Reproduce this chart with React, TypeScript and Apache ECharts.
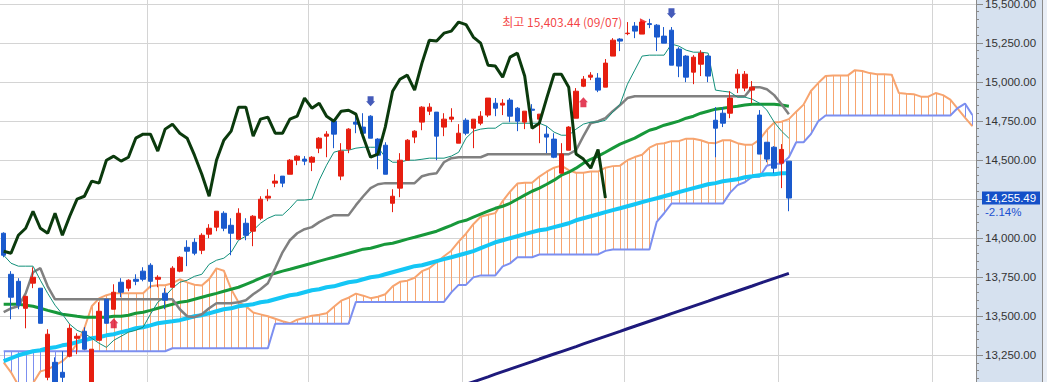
import React, { useEffect, useRef } from "react";
import * as echarts from "echarts";

// Nasdaq-style daily chart with Ichimoku cloud
const LEAD = 25; // cloud is drawn 25 sessions ahead of the last candle
const monthStarts = [20, 42, 63, 85, 106, 127];

const opens = [
  14030, 13767, 13722, 13549, 13710, 13678, 13107, 13203, 13139, 13242,
  13357, 13402, 13024, 13344, 13607, 13543, 13716, 13678, 13735, 13787,
  13825, 13735, 13646, 13684, 13787, 13940, 13972, 13921, 14024, 14069,
  14158, 14081, 13992, 14094, 14043, 14126, 14255, 14351, 14396, 14408,
  14498, 14505, 14485, 14575, 14652, 14748, 14396, 14569, 14742, 14710,
  14780, 14633, 14594, 14222, 14319, 14498, 14646, 14742, 14812, 14806,
  14710, 14761, 14607, 14754, 14703, 14735, 14787, 14863, 14851, 14883,
  14831, 14742, 14825, 14761, 14665, 14633, 14415, 14562, 14767, 14972,
  15030, 15024, 14966, 15165, 15274, 15309, 15357, 15306, 15373, 15363,
  15293, 15331, 15210, 15165, 15062, 15113, 15165, 14754, 14799, 14799,
  14960, 14960, 14947, 14787, 14613, 14581, 14479, 14492,
];
const closes = [
  13889, 13620, 13569, 13626, 13748, 13453, 13383, 13056, 13107, 13421,
  13370, 13287, 13287, 13530, 13453, 13652, 13652, 13729, 13722, 13735,
  13722, 13748, 13601, 13806, 13876, 13915, 13902, 14017, 14062, 14171,
  14062, 14030, 14158, 14017, 14139, 14248, 14267, 14364, 14351, 14498,
  14524, 14492, 14517, 14639, 14665, 14665, 14556, 14697, 14729, 14671,
  14639, 14530, 14408, 14267, 14498, 14626, 14684, 14838, 14838, 14652,
  14761, 14774, 14671, 14671, 14761, 14780, 14896, 14831, 14863, 14780,
  14748, 14812, 14818, 14793, 14646, 14517, 14537, 14710, 14940, 15017,
  15043, 14947, 15120, 15267, 15261, 15312, 15325, 15383, 15367, 15287,
  15248, 15107, 15101, 15030, 15158, 15184, 15037, 14703, 14735, 14896,
  15049, 15049, 14966, 14537, 14505, 14447, 14567, 14255.49,
];
const lows = [
  13876, 13479, 13543, 13421, 13678, 13453, 13088, 13040, 13056, 13235,
  13255, 13287, 12990, 13344, 13453, 13543, 13620, 13658, 13697, 13722,
  13678, 13684, 13543, 13684, 13780, 13819, 13889, 13896, 13998, 14043,
  14043, 13889, 13992, 13985, 13947, 14114, 14235, 14325, 14325, 14408,
  14466, 14466, 14428, 14543, 14517, 14575, 14370, 14543, 14671, 14652,
  14639, 14440, 14408, 14165, 14261, 14498, 14607, 14690, 14787, 14498,
  14652, 14742, 14607, 14658, 14575, 14722, 14774, 14780, 14787, 14742,
  14684, 14697, 14754, 14607, 14543, 14511, 14415, 14562, 14767, 14966,
  15011, 14934, 14966, 15165, 15197, 15299, 15280, 15306, 15344, 15197,
  15248, 15107, 15030, 14998, 14985, 15037, 14998, 14517, 14710, 14767,
  14928, 14940, 14863, 14537, 14485, 14415, 14319, 14171,
];
const highs = [
  14036, 13787, 13742, 13626, 13812, 13678, 13415, 13235, 13274, 13447,
  13389, 13428, 13287, 13588, 13607, 13703, 13742, 13735, 13767, 13812,
  13838, 13761, 13678, 13819, 13883, 13985, 13998, 14030, 14088, 14171,
  14171, 14126, 14190, 14126, 14146, 14267, 14312, 14408, 14396, 14505,
  14530, 14524, 14524, 14646, 14684, 14761, 14607, 14703, 14799, 14799,
  14786, 14639, 14613, 14312, 14543, 14633, 14690, 14844, 14863, 14806,
  14799, 14831, 14729, 14767, 14761, 14812, 14896, 14896, 14889, 14896,
  14838, 14812, 14857, 14793, 14716, 14671, 14607, 14716, 14960, 15037,
  15062, 15056, 15146, 15280, 15280, 15383, 15383, 15391, 15403.44, 15370,
  15351, 15351, 15222, 15171, 15171, 15203, 15171, 14838, 14838, 14940,
  15081, 15069, 15005, 14819, 14613, 14588, 14601, 14492,
];

// conversion line (tenkan)
const tenkan = [
  13889, 13838, 13819, 13819, 13819, 13729, 13645, 13569, 13511, 13447,
  13408, 13389, 13357, 13325, 13299, 13344, 13370, 13396, 13408, 13428,
  13511, 13588, 13626, 13678, 13716, 13729, 13754, 13767, 13831, 13857,
  13870, 13908, 13985, 14011, 14049, 14094, 14126, 14146, 14146, 14190,
  14242, 14242, 14248, 14370, 14466, 14549, 14562, 14562, 14575, 14581,
  14581, 14581, 14517, 14485, 14485, 14498, 14498, 14504, 14511, 14511,
  14511, 14524, 14549, 14639, 14684, 14697, 14703, 14703, 14735, 14735,
  14735, 14735, 14735, 14735, 14716, 14678, 14658, 14658, 14697, 14729,
  14742, 14742, 14754, 14806, 14857, 14985, 15075, 15165, 15171, 15171,
  15171, 15242, 15229, 15203, 15190, 15190, 15184, 14947, 14940, 14934,
  14902, 14902, 14889, 14863, 14819, 14742, 14684, 14639,
];
// base line (kijun)
const kijun = [
  13524, 13549, 13562, 13645, 13780, 13806, 13690, 13607, 13607, 13607,
  13607, 13607, 13607, 13607, 13607, 13607, 13607, 13607, 13607, 13607,
  13607, 13607, 13607, 13607, 13543, 13498, 13492, 13511, 13549, 13581,
  13581, 13581, 13588, 13601, 13639, 13671, 13710, 13806, 13908, 13985,
  14030, 14056, 14069, 14101, 14126, 14146, 14146, 14146, 14210, 14267,
  14319, 14344, 14351, 14351, 14351, 14351, 14351, 14395, 14408, 14415,
  14485, 14511, 14517, 14517, 14517, 14517, 14536, 14536, 14536, 14536,
  14536, 14536, 14536, 14536, 14536, 14536, 14536, 14536, 14562, 14652,
  14735, 14748, 14767, 14812, 14851, 14896, 14908, 14908, 14908, 14908,
  14908, 14908, 14908, 14908, 14908, 14908, 14908, 14908, 14908, 14908,
  14908, 14908, 14966, 14966, 14953, 14915, 14857, 14793,
];
// leading span A (133 sessions incl. 25 ahead)
const spanA = [
  13203, 13139, 13056, 13011, 13069, 13145, 13158, 13184, 13210, 13254,
  13325, 13421, 13562, 13613, 13633, 13645, 13645, 13645, 13645, 13645,
  13690, 13697, 13697, 13710, 13735, 13715, 13700, 13695, 13736, 13805,
  13790, 13672, 13588, 13563, 13522, 13510, 13498, 13482, 13466, 13453,
  13476, 13489, 13502, 13508, 13518, 13559, 13598, 13617, 13643, 13630,
  13614, 13623, 13639, 13690, 13719, 13726, 13745, 13787, 13806, 13844,
  13883, 13918, 13976, 14027, 14088, 14136, 14149, 14159, 14236, 14296,
  14348, 14354, 14354, 14393, 14424, 14450, 14463, 14434, 14418, 14418,
  14425, 14425, 14450, 14460, 14463, 14498, 14518, 14533, 14578, 14601,
  14607, 14620, 14620, 14636, 14636, 14626, 14610, 14607, 14626, 14626,
  14607, 14597, 14597, 14630, 14691, 14739, 14745, 14761, 14809, 14854,
  14941, 14992, 15037, 15040, 15040, 15040, 15075, 15069, 15056, 15049,
  15049, 15046, 14928, 14924, 14921, 14905, 14905, 14928, 14915, 14886,
  14829, 14771, 14716,
];
// leading span B
const spanB = [
  13274, 13274, 13274, 13274, 13274, 13274, 13274, 13274, 13274, 13274,
  13274, 13274, 13274, 13274, 13274, 13274, 13274, 13274, 13274, 13274,
  13274, 13274, 13274, 13293, 13293, 13293, 13293, 13293, 13293, 13293,
  13293, 13293, 13293, 13293, 13293, 13293, 13293, 13450, 13450, 13450,
  13450, 13450, 13450, 13450, 13450, 13450, 13450, 13450, 13590, 13590,
  13590, 13590, 13590, 13590, 13590, 13590, 13590, 13590, 13590, 13590,
  13590, 13651, 13699, 13699, 13747, 13760, 13760, 13760, 13818, 13837,
  13876, 13876, 13876, 13894, 13894, 13894, 13894, 13894, 13894, 13894,
  13894, 13894, 13917, 13926, 13926, 13926, 13926, 13926, 13926, 14103,
  14158, 14220, 14220, 14220, 14220, 14220, 14220, 14220, 14220, 14290,
  14338, 14357, 14392, 14392, 14463, 14475, 14475, 14517, 14613, 14613,
  14665, 14748, 14784, 14784, 14784, 14784, 14784, 14784, 14784, 14784,
  14784, 14784, 14784, 14784, 14784, 14784, 14784, 14784, 14784, 14784,
  14832, 14861, 14787,
];
// thick cyan moving average
const maCyan = [
  13210, 13229, 13248, 13261, 13274, 13280, 13293, 13299, 13312, 13319,
  13332, 13344, 13357, 13364, 13376, 13383, 13396, 13408, 13421, 13428,
  13440, 13453, 13460, 13466, 13473, 13485, 13498, 13505, 13517, 13530,
  13543, 13549, 13562, 13569, 13575, 13588, 13594, 13607, 13620, 13633,
  13639, 13652, 13665, 13671, 13684, 13690, 13703, 13716, 13722, 13735,
  13748, 13754, 13767, 13780, 13793, 13806, 13819, 13825, 13838, 13851,
  13864, 13876, 13889, 13902, 13915, 13934, 13953, 13972, 13985, 13998,
  14011, 14024, 14037, 14049, 14056, 14069, 14081, 14094, 14113, 14126,
  14139, 14152, 14165, 14178, 14190, 14203, 14216, 14229, 14242, 14254,
  14267, 14280, 14293, 14306, 14319, 14331, 14344, 14351, 14363, 14370,
  14376, 14389, 14395, 14402, 14408, 14408, 14415, 14415,
];
// green moving average
const maGreen = [
  13575, 13575, 13575, 13569, 13562, 13549, 13536, 13524, 13511, 13505,
  13498, 13492, 13492, 13492, 13492, 13498, 13498, 13505, 13517, 13524,
  13536, 13549, 13562, 13575, 13588, 13594, 13607, 13620, 13633, 13645,
  13658, 13671, 13684, 13703, 13722, 13742, 13761, 13774, 13787, 13799,
  13812, 13825, 13838, 13851, 13864, 13876, 13889, 13902, 13915, 13928,
  13934, 13947, 13960, 13966, 13979, 13992, 14004, 14017, 14030, 14043,
  14062, 14081, 14101, 14113, 14133, 14152, 14171, 14190, 14203, 14222,
  14248, 14274, 14299, 14319, 14344, 14370, 14402, 14421, 14447, 14479,
  14504, 14524, 14549, 14575, 14601, 14620, 14639, 14665, 14690, 14703,
  14722, 14735, 14748, 14767, 14780, 14799, 14812, 14825, 14831, 14838,
  14844, 14851, 14857, 14857, 14857, 14857, 14851, 14844,
];
// navy long moving average (visible from session 63)
const maNavyStart = 63;
const maNavy = [
  13062, 13078, 13094, 13110, 13127, 13143, 13159, 13175, 13191, 13207,
  13224, 13240, 13256, 13272, 13288, 13304, 13321, 13337, 13353, 13369,
  13385, 13401, 13418, 13434, 13450, 13466, 13482, 13498, 13515, 13531,
  13547, 13563, 13579, 13595, 13612, 13628, 13644, 13660, 13676, 13692,
  13709, 13725, 13741, 13757, 13773,
];

const upSignals = [[15, 13453], [79, 14870]];
const downSignals = [[50, 14876], [91, 15440]];
const highIndex = 88;
const highValue = 15403.44;
const highDate = "09/07";
const changePct = -2.14;

const C = {
  up: "#e61e10",
  down: "#1a5acd",
  spanA: "#f7a46f",
  spanB: "#7c8ff0",
  cyan: "#14c6f5",
  green: "#17983a",
  navy: "#1e1a7c",
  tenkan: "#12907a",
  kijun: "#808080",
  lag: "#0b3a0d",
  grid: "#d4d4d4",
};

const AXIS_FONT = "'Liberation Sans', Arial, sans-serif";
const AXIS_SIZE = 11.5;
const fmt = (v: number) =>
  v.toLocaleString("en-US", { minimumFractionDigits: 2, maximumFractionDigits: 2 });

export default function App() {
  const ref = useRef<HTMLDivElement>(null);
  useEffect(() => {
    document.body.style.margin = "0";
    const chart = echarts.init(ref.current!, null, { renderer: "svg" });
    const total = opens.length + LEAD;
    const categories = Array.from({ length: total }, (_, i) => String(i));
    const lagging = closes.slice(LEAD);
    const navyData = categories.map((_, i) => (i >= maNavyStart ? maNavy[i - maNavyStart] : null));
    const lastClose = closes[closes.length - 1];
    // the axis tick that sits under the current-price box is covered in the reference
    const coveredTick = Math.round(lastClose / 250) * 250;

    const line = (name: string, data: any[], color: string, width: number, z: number) => ({
      name,
      type: "line",
      data,
      z,
      silent: true,
      symbol: "none",
      lineStyle: { color, width },
      emphasis: { disabled: true },
    });

    const option: any = {
      animation: false,
      grid: { left: 0, right: 71, top: 0, bottom: 0 },
      xAxis: {
        type: "category",
        data: categories,
        boundaryGap: true,
        axisLine: { show: false },
        axisTick: { show: false },
        axisLabel: { show: false },
        splitLine: {
          show: true,
          interval: (i: number) => monthStarts.includes(i),
          lineStyle: { color: C.grid, width: 1 },
        },
      },
      yAxis: {
        type: "value",
        position: "right",
        min: 13000,
        max: 15550,
        interval: 250,
        axisLine: { show: true, lineStyle: { color: "#8a8a8a", width: 1 } },
        axisTick: { show: true, length: 7, lineStyle: { color: "#8a8a8a" } },
        minorTick: { show: true, splitNumber: 5, length: 3, lineStyle: { color: "#8a8a8a" } },
        axisLabel: {
          showMaxLabel: false,
          showMinLabel: false,
          margin: 9,
          color: "#333",
          fontSize: AXIS_SIZE,
          fontFamily: AXIS_FONT,
          formatter: (v: number) => (v === coveredTick ? "" : fmt(v)),
        },
        splitLine: { show: true, lineStyle: { color: C.grid, width: 1 } },
      },
      series: [
        {
          name: "cloud",
          type: "custom",
          z: 1,
          silent: true,
          data: spanA.map((a, i) => [i, a, spanB[i]]),
          encode: { x: 0, y: [1, 2] },
          renderItem: (_p: any, api: any) => {
            const i = api.value(0);
            const a = api.value(1);
            const b = api.value(2);
            const p1 = api.coord([i, a]);
            const p2 = api.coord([i, b]);
            const x = Math.round(p1[0]) + 0.5;
            return {
              type: "line",
              shape: { x1: x, y1: p1[1], x2: x, y2: p2[1] },
              style: { stroke: a >= b ? C.spanA : C.spanB, lineWidth: 1 },
            };
          },
        },
        line("spanA", spanA, C.spanA, 2, 2),
        line("spanB", spanB, C.spanB, 2, 2),
        line("maNavy", navyData, C.navy, 3, 3),
        line("maCyan", maCyan, C.cyan, 4, 3),
        line("maGreen", maGreen, C.green, 3, 3),
        line("kijun", kijun, C.kijun, 2.5, 4),
        line("tenkan", tenkan, C.tenkan, 1, 4),
        {
          name: "price",
          type: "candlestick",
          z: 5,
          silent: true,
          barWidth: 5,
          data: opens.map((o, i) => [o, closes[i], lows[i], highs[i]]),
          itemStyle: {
            color: C.up,
            color0: C.down,
            borderColor: C.up,
            borderColor0: C.down,
            borderWidth: 1,
          },
          markLine: {
            symbol: "none",
            silent: true,
            lineStyle: { width: 0, color: "rgba(0,0,0,0)" },
            data: [
              {
                yAxis: lastClose,
                label: {
                  show: true,
                  position: "end",
                  distance: 6,
                  formatter: `{s| }\n{p|${fmt(lastClose)}}\n{c|${changePct.toFixed(2)}%}`,
                  fontSize: AXIS_SIZE,
                  fontFamily: AXIS_FONT,
                  rich: {
                    s: { height: 14, lineHeight: 14, fontSize: AXIS_SIZE, fontFamily: AXIS_FONT },
                    p: {
                      color: "#ffffff",
                      backgroundColor: "#1450c8",
                      padding: [0, 0, 0, 3],
                      width: 55,
                      height: 13,
                      lineHeight: 13,
                      fontSize: AXIS_SIZE,
                      fontFamily: AXIS_FONT,
                    },
                    c: {
                      color: "#1a50d0",
                      padding: [0, 0, 0, 3],
                      height: 14,
                      lineHeight: 14,
                      fontSize: AXIS_SIZE,
                      fontFamily: AXIS_FONT,
                    },
                  },
                },
              },
            ],
          },
        },
        line("lagging", lagging, C.lag, 3, 6),
        {
          name: "buy",
          type: "scatter",
          z: 7,
          silent: true,
          data: upSignals,
          symbol: "path://M4.5,0 L9,5 L7.5,5 L7.5,10 L1.5,10 L1.5,5 L0,5 Z",
          symbolSize: [9, 10],
          itemStyle: { color: "#dc1030" },
        },
        {
          name: "sell",
          type: "scatter",
          z: 7,
          silent: true,
          data: downSignals,
          symbol: "path://M1.5,0 L7.5,0 L7.5,5 L9,5 L4.5,10 L0,5 L1.5,5 Z",
          symbolSize: [9, 10],
          itemStyle: { color: "#1632a8" },
        },
        {
          name: "highFlag",
          type: "scatter",
          z: 8,
          silent: true,
          data: [[highIndex, highValue]],
          symbol: "path://M0,0 L8,4 L0,8 Z",
          symbolSize: [7, 7],
          symbolOffset: [-6, 3],
          itemStyle: { color: "#f01010" },
        },
        {
          name: "high",
          type: "scatter",
          z: 8,
          silent: true,
          data: [[highIndex, highValue]],
          symbolSize: 0,
          label: {
            show: true,
            position: "left",
            distance: 27,
            offset: [0, 3],
            formatter: `최고 ${fmt(highValue)} (${highDate})`,
            color: "#f01010",
            fontSize: 12,
            fontFamily: "'Noto Sans CJK KR', 'Liberation Sans', sans-serif",
          },
        },
      ],
    };
    chart.setOption(option);
    return () => chart.dispose();
  }, []);
  return (
    <div
      style={{
        position: "relative",
        width: 1047,
        height: 382,
        overflow: "hidden",
        background:
          "linear-gradient(to right, #ffffff 0px, #ffffff 977px, #d6e1ef 977px, #d6e1ef 1042px, #8c8c8c 1042px, #8c8c8c 1043px, #e9eef6 1043px)",
      }}
    >
      <div ref={ref} style={{ position: "absolute", left: 0, top: -4, width: 1047, height: 398 }} />
    </div>
  );
}
